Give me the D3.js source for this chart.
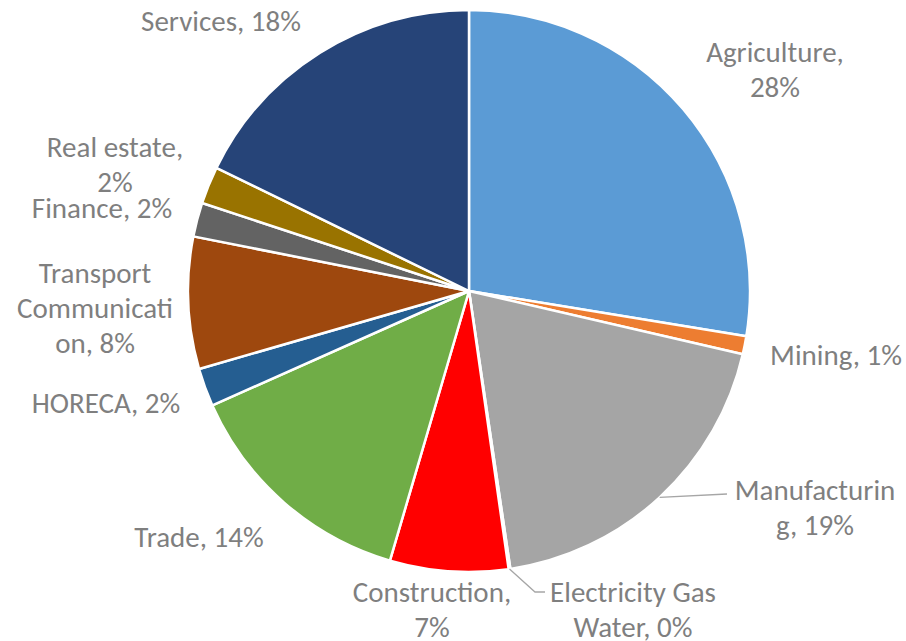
<!DOCTYPE html>
<html>
<head>
<meta charset="utf-8">
<script src="https://cdn.jsdelivr.net/npm/d3@7"></script>
<style>
  body { margin: 0; background: #fff; }
  text { font-family: Carlito, Calibri, Lato, sans-serif; }
</style>
</head>
<body>
<div id="chart"></div>
<script>
// data
var sectors = ["Agriculture", "Mining", "Manufacturing", "Electricity Gas Water", "Construction", "Trade", "HORECA", "Transport Communication", "Finance", "Real estate", "Services"];
var shares = [27.6, 1.05, 19.05, 0.1, 6.8, 13.8, 2.2, 7.6, 1.96, 2.15, 17.8];
var colors = ["#5B9BD5", "#ED7D31", "#A5A5A5", "#FFC000", "#FF0000", "#70AD47", "#255E91", "#9E480E", "#636363", "#997300", "#264478"];

// where each label sits and how it wraps (character positions of line breaks)
var labelPos = [[775, 52], [836, 355], [815, 490], [633, 592], [432, 592], [199, 537], [106, 403], [95, 273], [102, 208], [115, 147], [221, 21]];
var labelBreaks = [[12], [], [12], [16], [13], [], [], [10, 21], [], [12], []];
var leaders = {"Manufacturing": [727, 494, 0], "Electricity Gas Water": [535, 592, 10]};

var width = 906, height = 641;
var cx = 469, cy = 291, radius = 281;
var lineH = 35;

var svg = d3.select("#chart").append("svg").attr("width", width).attr("height", height);
var g = svg.append("g").attr("transform", "translate(" + cx + "," + cy + ")");

var data = sectors.map(function(s, i) { return {name: s, value: shares[i], color: colors[i]}; });
var total = d3.sum(shares);

var pie = d3.pie().sort(null).value(function(d) { return d.value; });
var arc = d3.arc().innerRadius(0).outerRadius(radius);
var arcs = pie(data);

g.selectAll("path")
  .data(arcs)
  .enter().append("path")
  .attr("d", arc)
  .attr("fill", function(d) { return d.data.color; })
  .attr("stroke", "#fff")
  .attr("stroke-width", 2.5)
  .attr("stroke-linejoin", "round");

// leader lines
arcs.forEach(function(d) {
  var l = leaders[d.data.name];
  if (!l) return;
  var a = (d.startAngle + d.endAngle) / 2;
  var x0 = cx + radius * Math.sin(a), y0 = cy - radius * Math.cos(a);
  svg.append("polyline")
    .attr("points", [[x0, y0], [l[0], l[1]], [l[0] + l[2], l[1]]].map(function(p) { return p.join(","); }).join(" "))
    .attr("fill", "none")
    .attr("stroke", "#A6A6A6")
    .attr("stroke-width", 1.3);
});

// labels
arcs.forEach(function(d, i) {
  var full = d.data.name + ", " + Math.round(d.data.value / total * 100) + "%";
  var cuts = [0].concat(labelBreaks[i]).concat([full.length]);
  var lines = [];
  for (var k = 0; k < cuts.length - 1; k++) lines.push(full.slice(cuts[k], cuts[k + 1]).trim());
  var t = svg.append("text")
    .attr("text-anchor", "middle")
    .attr("fill", "#7F7F7F")
    .style("font-size", "29px");
  lines.forEach(function(line, k) {
    t.append("tspan")
      .attr("x", labelPos[i][0])
      .attr("y", labelPos[i][1] + k * lineH)
      .attr("dy", "0.35em")
      .text(line);
  });
});
</script>
</body>
</html>
